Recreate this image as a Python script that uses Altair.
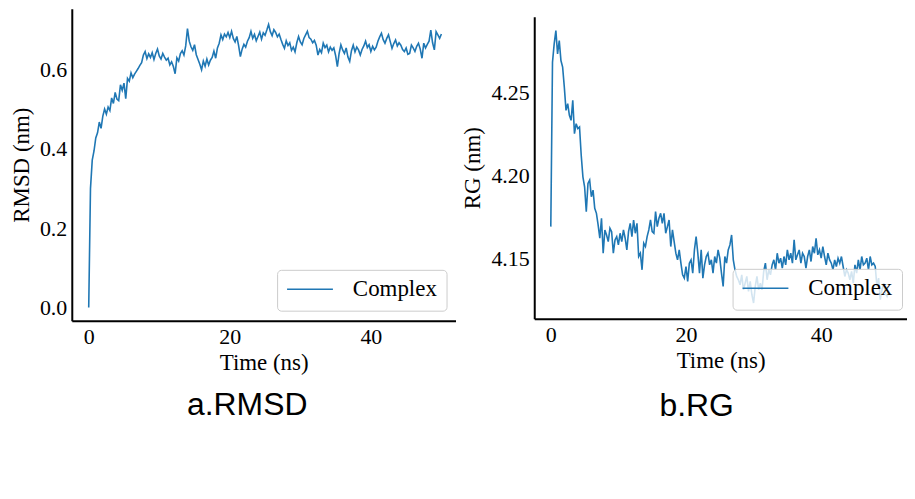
import altair as alt
import pandas as pd

STEP = 0.25  # ns between samples

rmsd_values = [
    0.000, 0.300, 0.372, 0.395, 0.428, 0.441, 0.468, 0.452, 0.483, 0.501,
    0.488, 0.506, 0.497, 0.529, 0.515, 0.543, 0.526, 0.522, 0.562, 0.548,
    0.566, 0.527, 0.578, 0.571, 0.592, 0.580, 0.589, 0.596, 0.603, 0.611,
    0.618, 0.637, 0.646, 0.628, 0.640, 0.631, 0.643, 0.626, 0.641, 0.652,
    0.635, 0.627, 0.641, 0.632, 0.624, 0.629, 0.612, 0.620, 0.608, 0.590,
    0.630, 0.622, 0.641, 0.648, 0.637, 0.660, 0.704, 0.672, 0.658, 0.649,
    0.663, 0.638, 0.626, 0.614, 0.600, 0.622, 0.609, 0.627, 0.612, 0.624,
    0.631, 0.647, 0.629, 0.655, 0.667, 0.688, 0.676, 0.690, 0.683, 0.694,
    0.681, 0.697, 0.679, 0.670, 0.684, 0.661, 0.633, 0.652, 0.664, 0.657,
    0.672, 0.681, 0.697, 0.679, 0.689, 0.673, 0.684, 0.695, 0.677, 0.693,
    0.687, 0.700, 0.714, 0.696, 0.686, 0.701, 0.694, 0.683, 0.690, 0.676,
    0.664, 0.654, 0.673, 0.661, 0.668, 0.649, 0.657, 0.645, 0.668, 0.684,
    0.670, 0.663, 0.679, 0.688, 0.697, 0.681, 0.677, 0.668, 0.674, 0.662,
    0.637, 0.651, 0.643, 0.667, 0.656, 0.662, 0.645, 0.657, 0.649, 0.655,
    0.636, 0.608, 0.641, 0.663, 0.650, 0.641, 0.655, 0.632, 0.621, 0.648,
    0.662, 0.645, 0.657, 0.650, 0.637, 0.651, 0.660, 0.672, 0.656, 0.663,
    0.646, 0.659, 0.650, 0.657, 0.672, 0.683, 0.692, 0.676, 0.667, 0.679,
    0.688, 0.671, 0.654, 0.666, 0.675, 0.660, 0.668, 0.662, 0.651, 0.646,
    0.655, 0.639, 0.641, 0.662, 0.655, 0.646, 0.659, 0.667, 0.652, 0.629,
    0.667, 0.655, 0.664, 0.672, 0.700, 0.668, 0.650, 0.696, 0.688, 0.679,
    0.690,
]

rg_values = [
    4.169, 4.268, 4.279, 4.287, 4.273, 4.281, 4.269, 4.265, 4.253, 4.239,
    4.243, 4.236, 4.233, 4.245, 4.225, 4.231, 4.228, 4.229, 4.212, 4.199,
    4.193, 4.178, 4.195, 4.197, 4.187, 4.191, 4.180, 4.177, 4.170, 4.162,
    4.174, 4.153, 4.167, 4.164, 4.160, 4.168, 4.166, 4.153, 4.161, 4.163,
    4.158, 4.165, 4.160, 4.167, 4.162, 4.155, 4.166, 4.171, 4.163, 4.173,
    4.165, 4.171, 4.151, 4.153, 4.143, 4.159, 4.157, 4.163, 4.167, 4.173,
    4.166, 4.165, 4.178, 4.169, 4.174, 4.177, 4.171, 4.177, 4.165, 4.169,
    4.173, 4.157, 4.167, 4.160, 4.153, 4.149, 4.155, 4.147, 4.140, 4.138,
    4.145, 4.136, 4.147, 4.149, 4.141, 4.155, 4.163, 4.153, 4.141, 4.155,
    4.138, 4.146, 4.151, 4.153, 4.146, 4.149, 4.141, 4.151, 4.147, 4.155,
    4.150, 4.141, 4.133, 4.151, 4.147, 4.155, 4.158, 4.164, 4.149, 4.143,
    4.139, 4.137, 4.134, 4.140, 4.131, 4.135, 4.139, 4.130, 4.136, 4.128,
    4.123, 4.133, 4.139, 4.131, 4.135, 4.131, 4.142, 4.147, 4.137, 4.143,
    4.140, 4.146, 4.149, 4.143, 4.153, 4.147, 4.150, 4.144, 4.151, 4.146,
    4.155, 4.149, 4.153, 4.147, 4.161, 4.149, 4.152, 4.155, 4.147, 4.153,
    4.151, 4.144, 4.151, 4.155, 4.148, 4.157, 4.153, 4.162, 4.152, 4.155,
    4.150, 4.157, 4.151, 4.146, 4.153, 4.149, 4.147, 4.143, 4.149, 4.145,
    4.150, 4.147, 4.151, 4.145, 4.139, 4.143, 4.141, 4.137, 4.142, 4.135,
    4.146, 4.141, 4.149, 4.143, 4.151, 4.146, 4.147, 4.150, 4.143, 4.151,
    4.146, 4.147, 4.145, 4.133, 4.138, 4.125, 4.131, 4.135, 4.129, 4.127,
    4.130,
]

series_name = "Complex"
x_ticks = [0, 20, 40]
rmsd_ticks = [0.0, 0.2, 0.4, 0.6]
rg_ticks = [4.15, 4.20, 4.25]
captions = ["a.RMSD", "b.RG"]

time_rmsd = [round(i * STEP, 2) for i in range(len(rmsd_values))]
time_rg = [round(i * STEP, 2) for i in range(len(rg_values))]

df_rmsd = pd.DataFrame({"Time": time_rmsd, "Value": rmsd_values, "Series": series_name})
df_rg = pd.DataFrame({"Time": time_rg, "Value": rg_values, "Series": series_name})

SERIF = "Liberation Serif"
SANS = "Liberation Sans"
BLUE = "#1f77b4"


def make_legend(lx, ly):
    return alt.Legend(
        title=None, orient="none", legendX=lx, legendY=ly,
        symbolType="stroke", symbolSize=2116, symbolStrokeWidth=1.6,
        clipHeight=21,
        labelFont=SERIF, labelFontSize=23, labelOffset=19, labelColor="black",
        fillColor="rgba(255,255,255,0.8)", strokeColor="#cccccc",
        cornerRadius=4, padding=9,
    )


def panel(df, ytitle, yticks, yfmt, ydomain, xdomain, w, h, legend, caption, cap_x, cap_y):
    line = alt.Chart(df).mark_line(strokeWidth=1.6).encode(
        x=alt.X("Time:Q", scale=alt.Scale(domain=xdomain, nice=False, zero=False),
                axis=alt.Axis(values=x_ticks, title="Time (ns)", format="d",
                              labelPadding=6, titlePadding=4)),
        y=alt.Y("Value:Q", scale=alt.Scale(domain=ydomain, nice=False, zero=False),
                axis=alt.Axis(values=yticks, format=yfmt, title=ytitle,
                              labelPadding=5, titlePadding=6)),
        color=alt.Color("Series:N", scale=alt.Scale(range=[BLUE]), legend=legend),
    )
    cap = alt.Chart(pd.DataFrame({"c": [caption]})).mark_text(
        font=SANS, fontSize=32, align="center", baseline="alphabetic", color="black"
    ).encode(x=alt.value(cap_x), y=alt.value(cap_y), text="c:N")
    return alt.layer(line, cap).properties(width=w, height=h)


left = panel(df_rmsd, "RMSD (nm)", rmsd_ticks, ".1f", [-0.033, 0.754], [-2.4, 52.0],
             385, 313, make_legend(206, 262), captions[0], 176, 408)
right = panel(df_rg, "RG (nm)", rg_ticks, ".2f", [4.1136, 4.2954], [-2.45, 52.7],
              374, 303, make_legend(199, 253), captions[1], 163, 401)

# empty strip above the right panel so its plot area starts a little lower
spacer = alt.Chart(pd.DataFrame({"c": [0]})).mark_point(
    opacity=0, size=0, strokeWidth=0
).encode(x=alt.value(10), y=alt.value(0.5)).properties(width=374, height=1)

right_col = alt.vconcat(spacer, right, spacing=7).resolve_scale(
    color="independent"
).resolve_legend(color="independent")

chart = alt.hconcat(left, right_col, spacing=6).resolve_scale(
    color="independent", x="independent", y="independent"
).resolve_legend(color="independent").properties(
    padding={"left": 2, "top": 0, "right": 0, "bottom": 0}
).configure_view(stroke=None).configure_axis(
    grid=False, domainColor="black", domainWidth=2, ticks=False, tickSize=0,
    labelFont=SERIF, labelFontSize=22, labelColor="black",
    titleFont=SERIF, titleFontSize=23, titleFontWeight="normal", titleColor="black",
)

chart.save("out.html", embed_options={"renderer": "svg", "actions": False})
